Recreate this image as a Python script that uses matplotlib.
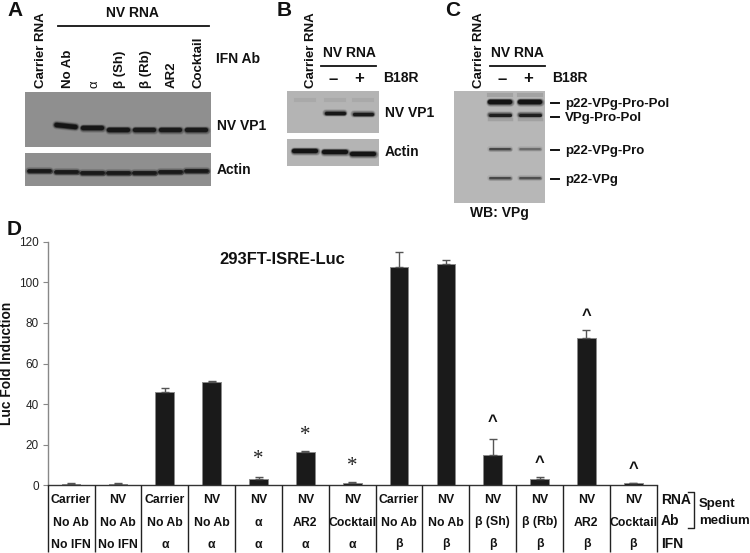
import numpy as np
import matplotlib
matplotlib.use('Agg')
import matplotlib.pyplot as plt

plt.rcParams['font.family'] = ['Liberation Sans', 'DejaVu Sans']

W, H = 750, 553

# panel D values
rna = ['Carrier', 'NV', 'Carrier', 'NV', 'NV', 'NV', 'NV', 'Carrier', 'NV', 'NV', 'NV', 'NV', 'NV']
ab = ['No Ab', 'No Ab', 'No Ab', 'No Ab', 'α', 'AR2', 'Cocktail', 'No Ab', 'No Ab', 'β (Sh)', 'β (Rb)', 'AR2', 'Cocktail']
ifn = ['No IFN', 'No IFN', 'α', 'α', 'α', 'α', 'α', 'β', 'β', 'β', 'β', 'β', 'β']
fold = [0.8, 0.8, 46, 51, 3, 16.3, 1.2, 107.7, 109, 15, 3.3, 72.4, 1]
fold_err = [0.2, 0.2, 2, 0.5, 1.3, 0.7, 0.4, 7.2, 2, 8, 0.9, 4.1, 0.3]
marks = ['', '', '', '', '*', '*', '*', '', '', '^', '^', '^', '^']
mark_levels = [0, 0, 0, 0, 12.5, 24.5, 9.5, 0, 0, 31.5, 11, 83.5, 8.5]

# blot lanes: band strength per lane, 0 = no band
a_lanes = ['Carrier RNA', 'No Ab', 'α', 'β (Sh)', 'β (Rb)', 'AR2', 'Cocktail']
a_vp1 = [0, 1.0, 0.95, 0.95, 0.9, 0.9, 0.9]
a_actin = [0.9, 0.9, 0.9, 0.9, 0.9, 0.9, 0.9]
b_vp1 = [0, 0.95, 0.9]
b_actin = [1.0, 1.0, 1.0]
c_pol = [0, 1.0, 1.0]
c_vpg_pol = [0, 0.85, 0.85]
c_pro = [0, 0.55, 0.35]
c_vpg = [0, 0.55, 0.5]

fig = plt.figure(figsize=(W / 100, H / 100), dpi=100)

# overlay in pixel coordinates for blots and labels
ov = fig.add_axes([0, 0, 1, 1], zorder=3)
ov.set_xlim(0, W)
ov.set_ylim(H, 0)
ov.axis('off')
ov.patch.set_alpha(0)


def txt(x, y, s, size=10, weight='bold', ha='left', va='center', rot=0, color='#111111'):
    ov.text(x, y, s, fontsize=size, fontweight=weight, ha=ha, va=va, rotation=rot, color=color)


def blot(x0, x1, y0, y1, bg):
    ov.fill_between([x0, x1], y0, y1, color=bg, lw=0)


def band(xc, y, strength, half=9.5, lw=3.0, tilt=0):
    if strength <= 0:
        return
    # a few soft layers so the band edge looks smeared
    for extra, a in [(3.2, 0.12), (2.0, 0.25), (1.0, 0.45), (0, 1.0)]:
        ov.plot([xc - half, xc + half], [y - tilt, y + tilt], color='#141414',
                alpha=a * strength, lw=lw * (0.5 + 0.5 * strength) + extra,
                solid_capstyle='round')


# panel A
grey_a = '#8f8f8f'
blot(25, 211, 92, 147, grey_a)
blot(25, 211, 153, 186, grey_a)
a_x = [39, 66, 92, 118, 144, 170, 196]
a_y = [126, 126, 128, 129.5, 130, 130, 130]
act_y = [170.5, 171.5, 172.5, 172.5, 172.5, 172, 171]
for i in range(7):
    band(a_x[i], a_y[i], a_vp1[i], lw=3.2, tilt=1 if i == 1 else 0)
    band(a_x[i], act_y[i], a_actin[i], half=10.5, lw=2.8)
for i, s in enumerate(a_lanes):
    txt(a_x[i] + 2, 88, s, size=9.5, ha='center', va='bottom', rot=90,
        weight='normal' if s == 'α' else 'bold')
txt(132, 13, 'NV RNA', size=10, ha='center')
ov.plot([58, 209], [26, 26], color='#111111', lw=1.3)
txt(216, 59, 'IFN Ab')
txt(217, 126, 'NV VP1')
txt(217, 170, 'Actin')
txt(7, 15.5, 'A', size=15, va='baseline')

# panel B
grey_b = '#b4b4b4'
blot(287, 379, 91, 133, grey_b)
blot(287, 379, 139, 166, grey_b)
b_x = [305, 335, 363]
for xc, v, y in zip(b_x, b_vp1, [113, 112.5, 113.5]):
    band(xc, y, v, half=9, lw=2.4)
for xc, v, y in zip(b_x, b_actin, [151, 152, 153.5]):
    band(xc, y, v, half=11, lw=3.0)
for xc in b_x:
    ov.plot([xc - 9, xc + 9], [100, 100], color='#a0a0a0', lw=3, alpha=0.55)
txt(311, 88, 'Carrier RNA', size=9.5, ha='center', va='bottom', rot=90)
txt(349, 53, 'NV RNA', size=10, ha='center')
ov.plot([321, 376], [66, 66], color='#111111', lw=1.3)
txt(333, 79, '–', size=12, ha='center')
txt(359, 78, '+', size=12, ha='center')
txt(383, 78, 'B18R')
txt(385, 113, 'NV VP1')
txt(385, 152, 'Actin')
txt(277, 15.5, 'B', size=15, va='baseline')

# panel C
grey_c = '#b7b7b7'
blot(454, 545, 91, 203, grey_c)
c_x = [484, 500, 530]
c_bands = [c_pol, c_vpg_pol, c_pro, c_vpg]
c_band_y = [102, 114.5, 149, 177.5]
c_band_lw = [3.2, 2.4, 1.6, 1.6]
for vals, y, lw in zip(c_bands, c_band_y, c_band_lw):
    for xc, v in zip(c_x, vals):
        band(xc, y, v, half=10, lw=lw)
for xc in c_x[1:]:
    ov.plot([xc - 11, xc + 11], [119, 119], color='#8f8f8f', lw=2.5, alpha=0.55)
    ov.plot([xc - 11, xc + 11], [95, 95], color='#8f8f8f', lw=3, alpha=0.5)
txt(479, 88, 'Carrier RNA', size=9.5, ha='center', va='bottom', rot=90)
txt(517, 53, 'NV RNA', size=10, ha='center')
ov.plot([490, 545], [66, 66], color='#111111', lw=1.3)
txt(502, 79, '–', size=12, ha='center')
txt(528, 78, '+', size=12, ha='center')
txt(552, 78, 'B18R')
c_names = ['p22-VPg-Pro-Pol', 'VPg-Pro-Pol', 'p22-VPg-Pro', 'p22-VPg']
c_name_y = [103, 117, 150, 179]
for s, y in zip(c_names, c_name_y):
    ov.plot([551, 559], [y, y], color='#111111', lw=1.4)
    txt(565, y + 1, s, size=9.5)
txt(499, 213, 'WB: VPg', ha='center')
txt(445, 15.5, 'C', size=15, va='baseline')

# panel D
ax = fig.add_axes([47.7 / W, 1 - 485.3 / H, 609 / W, 243.6 / H], zorder=1)
x = np.arange(13)
ax.bar(x, fold, width=0.4, color='#1a1a1a', edgecolor='#8a8a8a', linewidth=0.7,
       yerr=[np.zeros(13), fold_err], capsize=3,
       error_kw=dict(ecolor='#555555', elinewidth=1, capthick=1))
ax.set_xlim(-0.5, 12.5)
ax.set_ylim(0, 120)
ax.set_yticks(range(0, 121, 20))
ax.set_xticks([])
ax.tick_params(axis='y', length=3.5, width=0.8, color='#888888', labelsize=8.5,
               labelcolor='#222222', pad=3)
for s in ['top', 'right']:
    ax.spines[s].set_visible(False)
ax.spines['left'].set_color('#888888')
ax.spines['bottom'].set_color('#333333')
ax.spines['left'].set_linewidth(1)
ax.spines['bottom'].set_linewidth(1)
txt(7, 363, 'Luc Fold Induction', size=9.9, ha='center', rot=90)

for i in range(13):
    if marks[i] == '*':
        ax.text(x[i], mark_levels[i], '*', fontsize=15, ha='center', va='center', color='#222222',
                family='Liberation Serif')
    elif marks[i] == '^':
        ax.text(x[i], mark_levels[i], '^', fontsize=12, fontweight='bold', ha='center', va='center',
                color='#111111')

# table under the bars
bar_w = 609 / 13
for i in range(14):
    px = 47.7 + i * bar_w
    ov.plot([px, px], [485.3, 552], color='#222222', lw=1, solid_capstyle='butt')
for i in range(13):
    px = 47.7 + (i + 0.5) * bar_w
    txt(px, 500, rna[i], size=8.8, ha='center')
    txt(px, 522.5, ab[i], size=8.8, ha='center')
    txt(px, 544.5, ifn[i], size=8.8, ha='center')
txt(661, 500, 'RNA')
txt(661, 521, 'Ab')
txt(661, 544, 'IFN')
ov.plot([688, 694, 694, 688], [492, 492, 528, 528], color='#222222', lw=1)
txt(699, 503.5, 'Spent', size=9.5)
txt(699, 520.5, 'medium', size=9.5)
txt(282.5, 259, '293FT-ISRE-Luc', size=11.9, ha='center', va='center')
txt(7, 235, 'D', size=15, va='baseline')

fig.savefig('out.png', dpi=100)
